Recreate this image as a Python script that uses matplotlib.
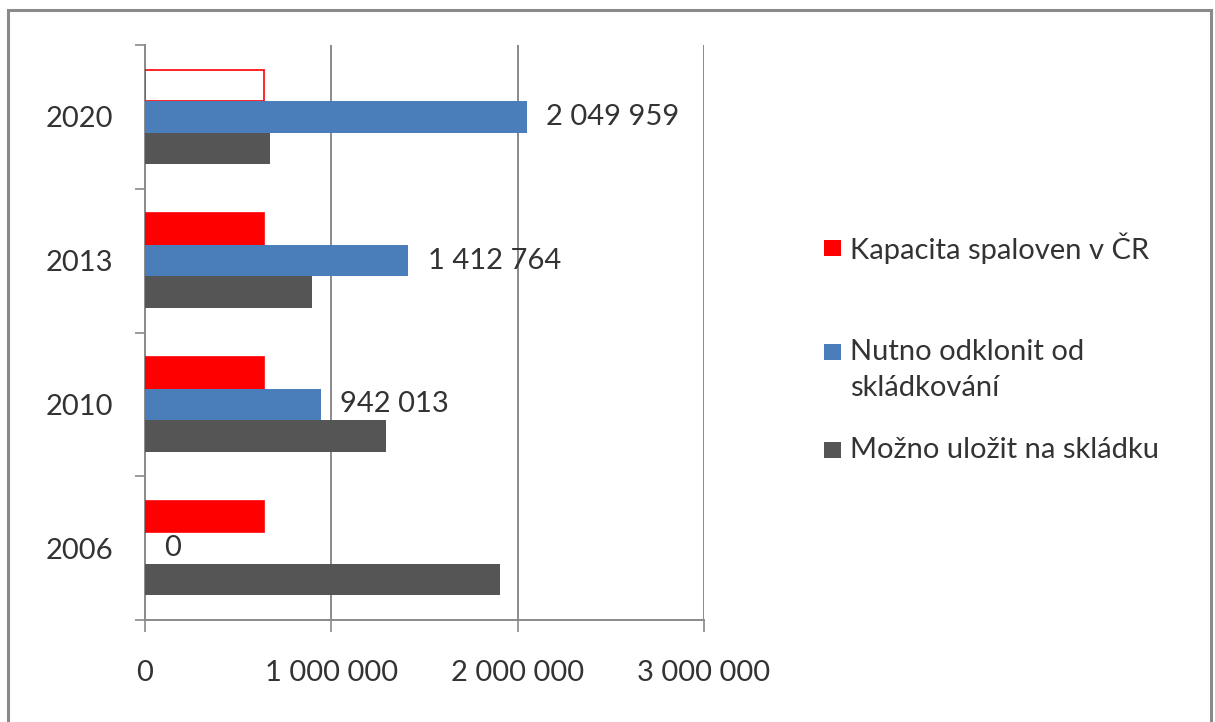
import matplotlib
matplotlib.use("Agg")
import matplotlib.pyplot as plt
from matplotlib.patches import Rectangle
import numpy as np

plt.rcParams['font.family'] = ['Lato', 'DejaVu Sans']

years = ["2006", "2010", "2013", "2020"]
kapacita = [640000, 640000, 640000, 640000]
nutno = [0, 942013, 1412764, 2049959]
mozno = [1905000, 1294000, 895000, 671000]
series_names = ["Kapacita spaloven v ČR", "Nutno odklonit od\nskládkování", "Možno uložit na skládku"]
xticks = [0, 1000000, 2000000, 3000000]
xtick_labels = ["0", "1 000 000", "2 000 000", "3 000 000"]

W, H = 1215, 722
FS = 21
fig = plt.figure(figsize=(W / 100, H / 100), dpi=100)
fig.patch.set_facecolor("white")

def fx(px):
    return px / W

def fy(py):
    return 1 - py / H

# outer frame
fig.patches.append(Rectangle((fx(8), fy(740)), fx(1211) - fx(8), fy(10) - fy(740),
                             transform=fig.transFigure, fill=False,
                             edgecolor="#8a8a8a", linewidth=2.2))

ax = fig.add_axes([fx(145), fy(620), fx(704) - fx(145), fy(45) - fy(620)])

red = "#ff0000"
blue = "#4a7ebb"
gray = "#555555"
txt = "#333333"
axc = "#8a8a8a"

y = np.arange(len(years))
h = 0.219
red_face = ["white" if yr == "2020" else red for yr in years]
ax.barh(y + h, kapacita, height=h, color=red_face, edgecolor=red, linewidth=1.2, zorder=3)
ax.barh(y, nutno, height=h, color=blue, zorder=3)
ax.barh(y - h, mozno, height=h, color=gray, zorder=3)

for yi, v in zip(y, nutno):
    lab = f"{v:,}".replace(",", " ")
    ax.annotate(lab, xy=(v, yi), xytext=(14, 0), textcoords="offset points",
                va="center", ha="left", fontsize=FS, color=txt, zorder=4)

ax.set_xlim(0, 3000000)
ax.set_ylim(-0.5, 3.5)
ax.set_xticks(xticks)
ax.set_xticklabels(xtick_labels)
ax.set_yticks(y)
ax.set_yticklabels(years)
ax.set_yticks(np.arange(-0.5, 3.6, 1.0), minor=True)

ax.tick_params(axis="y", which="major", length=0, pad=23, labelsize=FS, labelcolor=txt)
ax.tick_params(axis="y", which="minor", length=7.5, width=1.2, color=axc, direction="out")
ax.tick_params(axis="x", which="major", length=8.5, width=1.2, color=axc, pad=20,
               labelsize=FS, labelcolor=txt)

ax.grid(axis="x", color=axc, linewidth=1.4, zorder=0)
for s in ["top", "right"]:
    ax.spines[s].set_visible(False)
for s in ["left", "bottom"]:
    ax.spines[s].set_color(axc)
    ax.spines[s].set_linewidth(1.4)
ax.set_facecolor("white")

# legend (manual, to keep the handle next to the first line of the wrapped label)
legend_items = [
    (series_names[0], red, 248),
    (series_names[1], blue, 352),
    (series_names[2], gray, 450),
]
for name, col, cy in legend_items:
    fig.patches.append(Rectangle((fx(824), fy(cy + 8)), fx(841) - fx(824), fy(cy - 8) - fy(cy + 8),
                                 transform=fig.transFigure, facecolor=col, edgecolor="none"))
    lines = name.split("\n")
    for i, ln in enumerate(lines):
        fig.text(fx(850), fy(cy + i * 36), ln, fontsize=FS, color=txt,
                 ha="left", va="center")

fig.savefig("out.png", dpi=100, facecolor="white")
